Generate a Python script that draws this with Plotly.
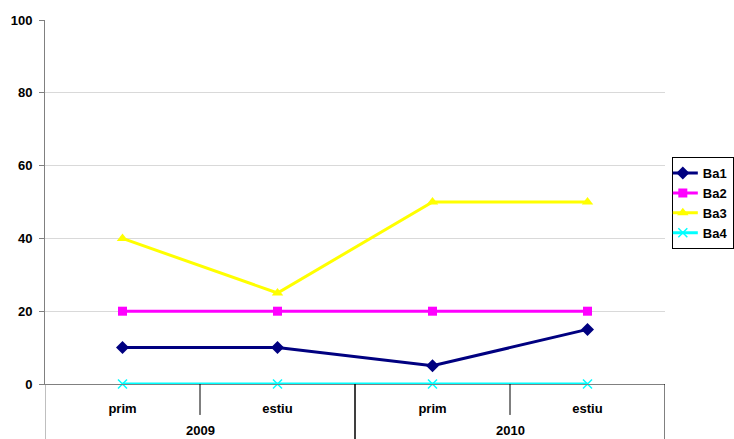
import plotly.graph_objects as go

years = ["2009", "2010"]
seasons = ["prim", "estiu", "prim", "estiu"]
ba1 = [10, 10, 5, 15]
ba2 = [20, 20, 20, 20]
ba3 = [40, 25, 50, 50]
ba4 = [0, 0, 0, 0]

xpos = list(range(len(seasons)))
per_year = len(seasons) // len(years)

series = [
    ("Ba1", ba1, "#000080", "diamond", 10, 0),
    ("Ba2", ba2, "#FF00FF", "square", 9, 0),
    ("Ba3", ba3, "#FFFF00", "triangle-up", 10, 0),
    ("Ba4", ba4, "#00FFFF", "x-thin-open", 9, 1.5),
]

FONT = "Liberation Sans, Arial"
fig = go.Figure()
for name, vals, color, sym, size, lw in series:
    fig.add_trace(go.Scatter(
        x=xpos, y=vals, name=name, mode="lines+markers", cliponaxis=False,
        line=dict(color=color, width=3),
        marker=dict(symbol=sym, size=size, color=color,
                    line=dict(color=color, width=lw)),
    ))

# year labels and separators
shapes = []
annotations = []
for i, yr in enumerate(years):
    start = i * per_year - 0.5
    end = start + per_year
    annotations.append(dict(x=(start + end) / 2, y=-0.128, xref="x", yref="paper",
                            text=yr, showarrow=False, yanchor="middle",
                            font=dict(family=FONT, size=13, color="black", weight="bold")))
    for b in [start, end]:
        shapes.append(dict(type="line", xref="x", yref="paper", x0=b, x1=b,
                           y0=0, y1=-0.16,
                           line=dict(color="#808080" if b == -0.5 else "black", width=1)))
    for k in range(1, per_year):
        b = start + k
        shapes.append(dict(type="line", xref="x", yref="paper", x0=b, x1=b,
                           y0=0, y1=-0.085, line=dict(color="black", width=1)))

fig.update_layout(
    width=734, height=439,
    margin=dict(l=45, r=69, t=20, b=55, autoexpand=False),
    plot_bgcolor="white", paper_bgcolor="white",
    font=dict(family=FONT, size=13, color="black"),
    legend=dict(x=1.011, y=0.497, xanchor="left", yanchor="middle",
                bordercolor="black", borderwidth=1, indentation=-10,
                font=dict(size=13, family=FONT, color="black", weight="bold"),
                tracegroupgap=0, itemwidth=30),
    showlegend=True,
    shapes=shapes,
    annotations=annotations,
)
fig.update_yaxes(range=[0, 100], dtick=20, showgrid=True, gridcolor="#d9d9d9",
                 showline=True, linecolor="#808080", linewidth=1,
                 ticks="outside", ticklen=5, tickcolor="#808080",
                 ticklabelstandoff=4,
                 tickfont=dict(size=13, weight="bold"), zeroline=False)
fig.update_xaxes(range=[-0.5, len(seasons) - 0.5], tickvals=xpos, ticktext=seasons,
                 showline=True, linecolor="#808080", linewidth=1,
                 ticks="outside", ticklen=12, tickcolor="rgba(0,0,0,0)",
                 tickfont=dict(size=13, weight="bold"), showgrid=False, zeroline=False)

fig.write_html("out.html")
